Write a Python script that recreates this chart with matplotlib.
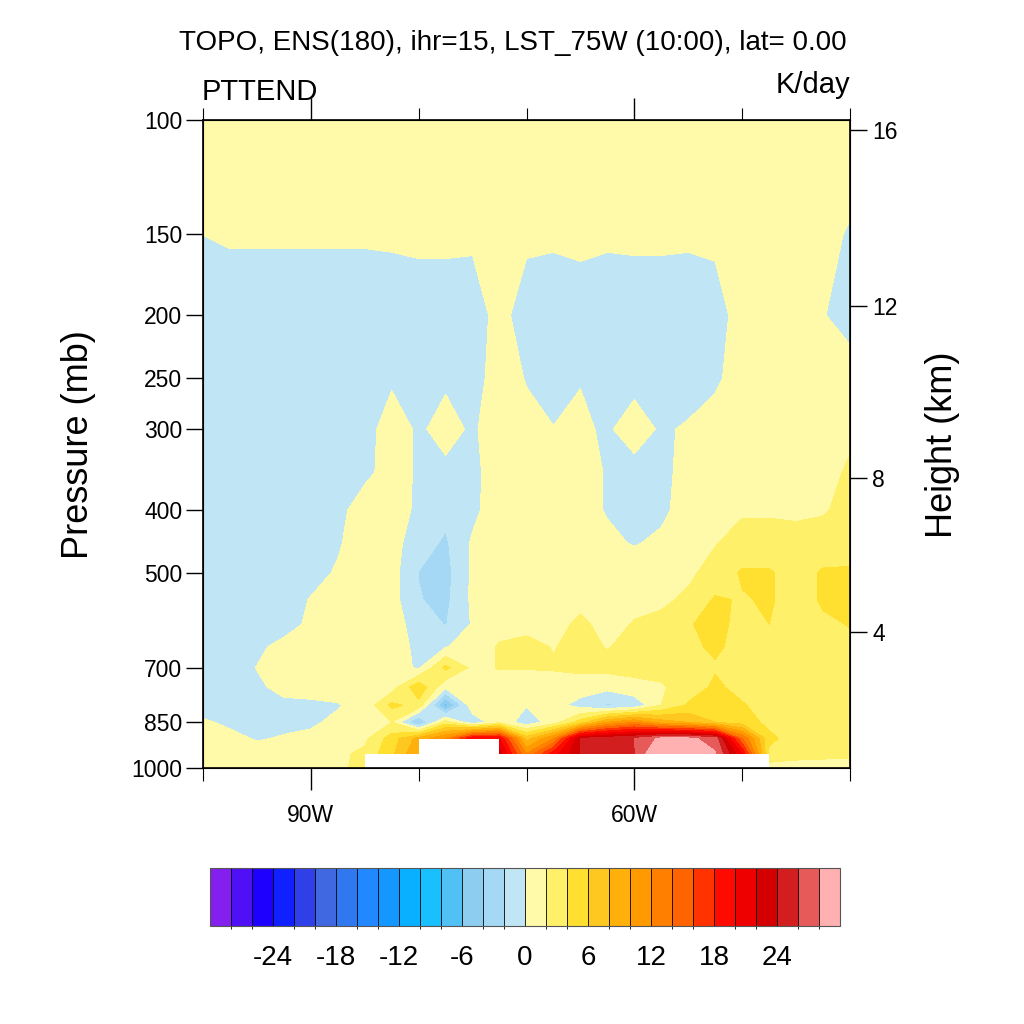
import numpy as np
import matplotlib
matplotlib.use('Agg')
import matplotlib.pyplot as plt
from matplotlib.colors import ListedColormap, BoundaryNorm
from matplotlib.ticker import FixedLocator, NullLocator, FixedFormatter

plt.rcParams['font.family'] = ['Liberation Sans', 'DejaVu Sans']

nan = np.nan

# grid: longitude (deg E) x pressure (mb)
lons = np.arange(-100.0, -37.5, 2.5)
pres = [1000, 950, 900, 850, 800, 750, 700, 650, 600, 550,
        500, 450, 400, 350, 300, 250, 200, 150, 100]

# PTTEND (K/day), one row per pressure level, west -> east
p1000 = [1.2, 1.2, 1.0, 1.0, 1.2, 1.5, 2.8, nan, nan, nan, nan, nan, nan, nan,
         nan, nan, nan, nan, nan, nan, nan, 1.0, 1.0, 1.0, 1.0]
p950 = [1.2, 1.0, 0.5, 0.8, 1.0, 1.5, 2.5, 5.5, 10.0, nan, nan, 23.0, 12.0, 19.0,
        24.0, 25.0, 25.8, 31.0, 31.0, 28.2, 20.0, 3.5, 2.8, 2.6, 2.5]
p900 = [1.0, 0.3, -0.1, 0.1, 0.3, 0.8, 1.5, 5.0, 8.7, 12.0, 20.0, 20.0, 7.0, 12.0,
        24.0, 25.0, 26.0, 28.5, 28.5, 27.0, 14.0, 4.5, 3.0, 2.8, 2.6]
p850 = [0.15, -0.2, -0.4, -0.3, -0.2, 0.3, 1.0, 2.0, -4.5, 3.0, -1.5, 1.5, -1.2, 1.0,
        5.0, 10.0, 12.0, 9.0, 8.0, 6.0, 5.0, 3.5, 2.8, 2.8, 2.8]
p800 = [-0.5, -0.5, -0.5, -0.4, -0.3, -0.1, 0.6, 4.5, 3.3, -6.8, 1.5, 1.0, 0.1, 0.8,
        -0.8, -2.3, -1.5, 2.0, 4.3, 5.0, 4.2, 3.0, 2.8, 2.8, 2.8]
p750 = [-0.8, -0.6, -0.3, 0.5, 0.6, 0.6, 0.8, 1.0, 5.5, 0.5, 1.2, 1.2, 1.0, 1.0,
        1.1, 0.6, 1.5, 1.8, 2.8, 4.4, 3.3, 3.0, 2.8, 2.8, 3.0]
p700 = [-0.8, -0.8, 0.05, 0.8, 1.0, 1.0, 1.0, 1.0, -0.3, 4.5, 1.5, 2.1, 2.1, 2.2,
        2.4, 2.6, 2.5, 2.6, 3.2, 3.8, 3.2, 3.0, 3.0, 3.0, 3.2]
p650 = [-0.8, -0.8, -0.4, 0.6, 1.0, 1.2, 1.2, 1.0, -0.5, -0.1, 0.8, 2.2, 2.6, 1.9,
        2.6, 1.9, 2.6, 2.8, 3.6, 4.3, 3.4, 3.4, 3.0, 3.2, 3.5]
p600 = [-0.8, -0.8, -0.8, -0.8, 0.4, 1.0, 1.0, 1.0, -1.0, -2.1, 0.2, 1.3, 1.4, 1.5,
        2.3, 1.5, 2.1, 2.3, 3.9, 4.4, 3.6, 4.0, 2.9, 3.6, 4.1]
p550 = [-0.8, -0.8, -0.8, -0.8, 0.1, 1.0, 1.0, 0.8, -1.9, -2.5, 0.4, 1.2, 1.2, 1.2,
        1.6, 1.4, 1.6, 1.8, 2.2, 4.3, 3.8, 4.3, 2.9, 4.3, 4.5]
p500 = [-0.8, -0.8, -0.8, -0.8, -0.6, 0.2, 1.0, 0.8, -2.05, -2.7, 0.4, 1.0, 1.0, 1.0,
        1.0, 0.8, 1.0, 1.2, 1.8, 2.4, 4.3, 4.3, 2.8, 4.3, 4.3]
p450 = [-0.8, -0.8, -0.8, -0.8, -0.8, -0.2, 1.0, 0.8, -1.2, -2.3, 0.3, 1.2, 1.2, 1.0,
        0.8, 0.3, -0.1, 0.3, 1.2, 1.95, 2.4, 2.4, 2.3, 2.6, 3.0]
p400 = [-0.8, -0.8, -0.8, -0.8, -0.8, -0.8, 1.4, 1.0, -0.4, -1.5, -0.5, 1.2, 1.2, 1.0,
        0.5, -0.1, -0.6, -0.3, 0.6, 1.2, 1.88, 1.88, 1.85, 1.88, 2.4]
p350 = [-0.8, -0.8, -0.8, -0.8, -0.8, -0.8, -0.6, 1.0, -0.3, -0.5, -0.6, 1.2, 1.0, 0.8,
        0.5, -0.1, -0.5, -0.5, 0.64, 1.0, 1.1, 1.1, 1.2, 1.3, 2.3]
p300 = [-0.8, -0.8, -0.8, -0.8, -0.8, -0.8, -0.8, 1.0, -0.3, 0.7, -0.3, 1.2, 0.5, 0.05,
        0.2, -0.17, 0.6, -0.17, 0.15, 0.8, 1.0, 1.0, 1.0, 1.1, 1.6]
p250 = [-0.8, -0.8, -0.8, -0.8, -0.8, -0.8, -0.8, -0.3, -0.6, -0.3, -0.7, 0.8, -0.1, -0.6,
        -0.05, -0.6, -0.4, -0.6, -0.6, -0.3, 0.8, 0.9, 1.0, 0.9, 1.0]
p200 = [-0.8, -0.8, -0.8, -0.8, -0.8, -0.8, -0.8, -0.8, -0.8, -0.8, -0.8, 0.55, -0.8, -0.8,
        -0.8, -0.8, -0.8, -0.8, -0.8, -0.8, 0.8, 0.8, 0.6, 0.1, -0.8]
p150 = [0.01, 0.15, 0.15, 0.15, 0.15, 0.15, 0.15, 0.2, 0.3, 0.3, 0.25, 0.6, 0.3, 0.2,
        0.35, 0.2, 0.25, 0.25, 0.2, 0.35, 0.6, 0.6, 0.5, 0.3, -0.1]
p100 = [0.6, 0.6, 0.6, 0.6, 0.6, 0.6, 0.6, 0.6, 0.6, 0.6, 0.6, 0.6, 0.6, 0.6,
        0.6, 0.6, 0.6, 0.6, 0.6, 0.6, 0.6, 0.6, 0.6, 0.6, 0.6]

ttend = np.ma.masked_invalid(np.array([p1000, p950, p900, p850, p800, p750, p700, p650,
                                       p600, p550, p500, p450, p400, p350, p300, p250,
                                       p200, p150, p100]))

# height axis: standard atmosphere pressure for each height (km)
hgt_km = [4, 8, 12, 16]
hgt_pres = [616.4, 356.5, 194.0, 103.5]

xtick_major = [-90, -60]
xtick_labels = ['90W', '60W']
xtick_minor = [-100, -80, -70, -50, -40]
ytick_pres = [100, 150, 200, 250, 300, 400, 500, 700, 850, 1000]

levels = np.arange(-28, 29, 2)
cbar_ticks = np.arange(-24, 25, 6)
colors = ['#8320EE', '#5010F5', '#1E00FF', '#1020FF', '#3040E8', '#4068E0',
          '#3078F0', '#2288FF', '#1498FF', '#08B0FF', '#18C0FF', '#50C0F5',
          '#8CCDF0', '#A4D8F4', '#C0E6F5', '#FFFAAA', '#FFF06A', '#FFE030',
          '#FFC820', '#FFB00A', '#FF9A00', '#FF7F00', '#FF6400', '#FF3200',
          '#FF0A00', '#EE0000', '#D40000', '#D21E1E', '#E65A5A', '#FFB0B0']

cmap = ListedColormap(colors[1:-1])
cmap.set_under(colors[0])
cmap.set_over(colors[-1])
norm = BoundaryNorm(levels, cmap.N)

fig = plt.figure(figsize=(10.24, 10.24), dpi=100)
ax = fig.add_axes([203/1024, 1 - 768/1024, 647/1024, 648/1024])

cf = ax.contourf(lons, pres, ttend, levels=levels, cmap=cmap, norm=norm,
                 extend='both', corner_mask=False)

ax.set_yscale('log')
ax.set_ylim(1000, 100)
ax.set_xlim(-100, -40)
ax.yaxis.set_major_locator(FixedLocator(ytick_pres))
ax.yaxis.set_major_formatter(FixedFormatter([str(p) for p in ytick_pres]))
ax.yaxis.set_minor_locator(NullLocator())
ax.xaxis.set_major_locator(FixedLocator(xtick_major))
ax.xaxis.set_major_formatter(FixedFormatter(xtick_labels))
ax.xaxis.set_minor_locator(FixedLocator(xtick_minor))
ax.tick_params(axis='x', which='major', direction='out', length=16, width=1.0,
               top=True, labelsize=16.5, pad=10)
ax.tick_params(axis='x', which='minor', direction='out', length=9, width=0.8, top=True)
ax.tick_params(axis='y', which='major', direction='out', length=12, width=1.0,
               labelsize=16.5, pad=3)
for sp in ax.spines.values():
    sp.set_linewidth(1.2)

ax2 = ax.twinx()
ax2.set_yscale('log')
ax2.set_ylim(1000, 100)
ax2.yaxis.set_major_locator(FixedLocator(hgt_pres))
ax2.yaxis.set_major_formatter(FixedFormatter([str(h) for h in hgt_km]))
ax2.yaxis.set_minor_locator(NullLocator())
ax2.tick_params(axis='y', which='major', direction='out', length=12, width=1.0,
                labelsize=16.5, pad=4)

fig.text(78/1024, 1 - 445/1024, 'Pressure (mb)', rotation=90, fontsize=26,
         ha='center', va='center')
fig.text(943/1024, 1 - 445/1024, 'Height (km)', rotation=90, fontsize=26,
         ha='center', va='center')

fig.text(513/1024, 1 - 50/1024, 'TOPO, ENS(180), ihr=15, LST_75W (10:00), lat= 0.00',
         fontsize=20, ha='center', va='baseline')
fig.text(202/1024, 1 - 100/1024, 'PTTEND', fontsize=21, ha='left', va='baseline')
fig.text(850/1024, 1 - 93/1024, 'K/day', fontsize=21, ha='right', va='baseline')

cax = fig.add_axes([210/1024, 1 - 926/1024, 630/1024, 58/1024])
cb = fig.colorbar(cf, cax=cax, orientation='horizontal', ticks=cbar_ticks,
                  drawedges=True, extendrect=True, extendfrac=1/28)
cb.ax.tick_params(length=0, labelsize=20, pad=14)
cb.ax.set_xticklabels([str(t) for t in cbar_ticks])
cb.outline.set_linewidth(0.8)
cb.outline.set_edgecolor('#555555')
cb.dividers.set_color('black')
cb.dividers.set_linewidth(0.6)

fig.savefig('out.png', dpi=100)
